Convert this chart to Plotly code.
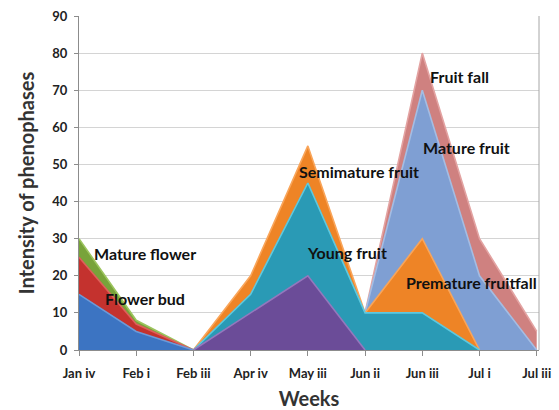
import plotly.graph_objects as go

weeks = ["Jan iv", "Feb i", "Feb iii", "Apr iv", "May iii", "Jun ii", "Jun iii", "Jul i", "Jul iii"]

# Phenophase intensities per week (None = phase not present)
flower_initiation = [15, 5, 0, None, None, None, None, None, None]
flower_bud = [25, 7, 0, None, None, None, None, None, None]
mature_flower = [30, 8, 0, None, None, None, None, None, None]
fruit_set = [None, None, 0, 10, 20, 0, None, None, None]
young_fruit = [None, None, 0, 15, 45, 10, 10, 0, None]
semimature_fruit = [None, None, 0, 20, 55, 10, 30, 0, None]
mature_fruit = [None, None, None, None, None, 10, 70, 20, 0]
fruit_fall = [None, None, None, None, None, 10, 80, 30, 5]

# back-to-front drawing order: (values, fill colour, edge colour)
series = [
    (fruit_fall, "#cf8180", "#e3a3a2"),
    (mature_fruit, "#7f9fd3", "#a4bde3"),
    (semimature_fruit, "#ee8426", "#f9a55a"),
    (young_fruit, "#2a9ab5", "#5cc9e0"),
    (fruit_set, "#6b4c98", "#9478bd"),
    (mature_flower, "#78a33a", "#9cc45e"),
    (flower_bud, "#c4322e", "#de5f5b"),
    (flower_initiation, "#3c74c2", "#6c9ad8"),
]

x_idx = list(range(len(weeks)))

fig = go.Figure()
for vals, fill, edge in series:
    fig.add_trace(go.Scatter(
        x=x_idx, y=vals, mode="lines", fill="tozeroy",
        fillcolor=fill, line=dict(color=edge, width=1.6),
        connectgaps=False, hoverinfo="skip", showlegend=False,
    ))

labels = [
    ("Mature flower", 0.23, 26.1),
    ("Flower bud", 0.42, 14.0),
    ("Semimature fruit", 3.81, 48.0),
    ("Young fruit", 3.95, 26.4),
    ("Fruit fall", 6.10, 73.6),
    ("Mature fruit", 5.98, 54.7),
    ("Premature fruitfall", 5.68, 18.3),
]
for text, lx, ly in labels:
    fig.add_annotation(x=lx, y=ly, text=f"<b>{text}</b>", showarrow=False,
                       xanchor="left", yanchor="middle",
                       font=dict(family="Lato", size=16, color="#111111"))

fig.update_layout(
    width=559, height=410,
    margin=dict(l=79, r=20, t=16, b=60),
    paper_bgcolor="white", plot_bgcolor="white",
    font=dict(family="Lato", color="#222222"),
    xaxis=dict(
        range=[0, 8.04], tickmode="array", tickvals=x_idx,
        ticktext=[f"<b>{w}</b>" for w in weeks],
        tickfont=dict(size=13, color="#222222"),
        ticklabelstandoff=6, automargin=False,
        showgrid=False, zeroline=False,
        showline=True, linecolor="#8c8c8c", linewidth=1,
        ticks="outside", ticklen=5, tickcolor="#8c8c8c",
        title=dict(text="<b>Weeks</b>", font=dict(size=20, color="#333333"), standoff=14),
    ),
    yaxis=dict(
        range=[0, 90], tickmode="array", tickvals=list(range(0, 91, 10)),
        ticktext=[f"<b>{v}</b>" for v in range(0, 91, 10)],
        tickfont=dict(size=13, color="#222222"),
        showgrid=True, gridcolor="#d4d4d4", gridwidth=1,
        zeroline=False, showline=True, linecolor="#8c8c8c", linewidth=1,
        ticks="outside", ticklen=4, tickcolor="#8c8c8c",
        ticklabelstandoff=4, automargin=False,
        title=dict(text="<b>Intensity of phenophases</b>", font=dict(size=20, color="#333333"), standoff=12),
    ),
)

# right-hand border of the plot area
fig.add_shape(type="line", xref="paper", yref="paper", x0=1, x1=1, y0=0, y1=1,
              line=dict(color="#a6a6a6", width=1))

fig.write_html("out.html")
